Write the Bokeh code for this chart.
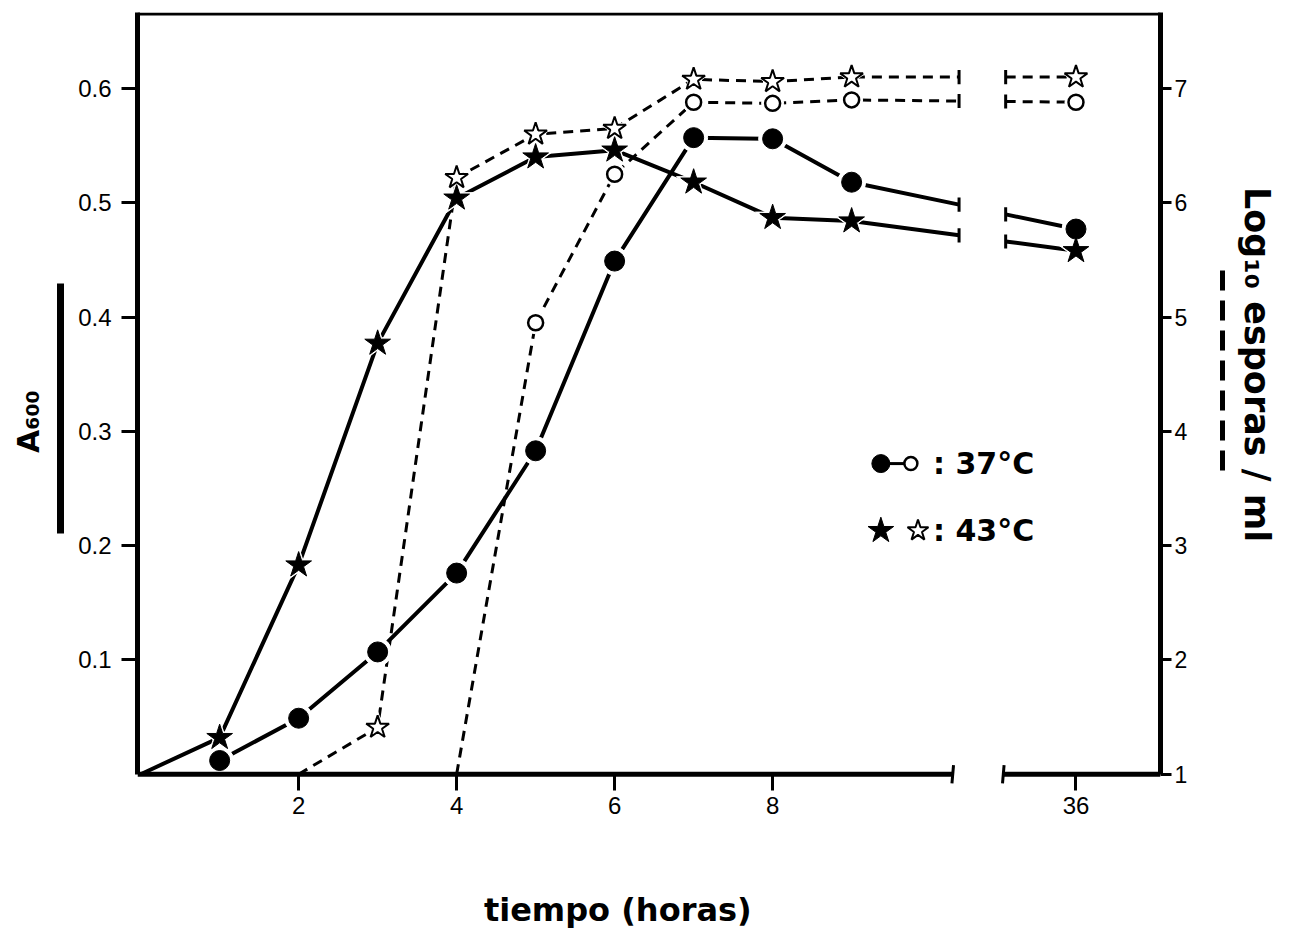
import numpy as np
from bokeh.plotting import figure
from bokeh.models import (Range1d, LinearAxis, FixedTicker, CustomJSTickFormatter,
                          Label, Arrow)
from bokeh.embed import file_html
from bokeh.resources import INLINE

# ---------------- data ----------------
hours_a600_37 = [1, 2, 3, 4, 5, 6, 7, 8, 9, 36]
a600_37 = [0.012, 0.049, 0.107, 0.176, 0.283, 0.449, 0.557, 0.556, 0.518, 0.477]

hours_a600_43 = [0, 1, 2, 3, 4, 5, 6, 7, 8, 9, 36]
a600_43 = [0.0, 0.032, 0.183, 0.377, 0.504, 0.540, 0.546, 0.518, 0.487, 0.484, 0.458]

hours_spores_37 = [4, 5, 6, 7, 8, 9, 36]
log_spores_37 = [1.0, 4.95, 6.25, 6.88, 6.87, 6.90, 6.88]

hours_spores_43 = [2, 3, 4, 5, 6, 7, 8, 9, 36]
log_spores_43 = [1.0, 1.41, 6.22, 6.60, 6.65, 7.08, 7.06, 7.10, 7.10]

x_tick_hours = [2, 4, 6, 8, 36]
a600_ticks = [0.1, 0.2, 0.3, 0.4, 0.5, 0.6]
log_ticks = [1, 2, 3, 4, 5, 6, 7]

# ---------------- broken time axis ----------------
POS_LATE = 11.84           # axis position where the 36 h point sits
AXIS_GAP = (10.28, 10.92)  # gap in the time axis
LINE_GAP = (10.36, 10.95)  # gap in the data lines


def xpos(h):
    h = np.asarray(h, dtype=float)
    return np.where(h > 10, POS_LATE, h)


def broken(hours, vals):
    x = xpos(hours)
    y = np.asarray(vals, dtype=float)
    x0, x1, y0, y1 = x[-2], x[-1], y[-2], y[-1]
    yl = y0 + (y1 - y0) * (LINE_GAP[0] - x0) / (x1 - x0)
    yr = y0 + (y1 - y0) * (LINE_GAP[1] - x0) / (x1 - x0)
    xs = np.concatenate([x[:-1], [LINE_GAP[0], np.nan, LINE_GAP[1], x1]])
    ys = np.concatenate([y[:-1], [yl, np.nan, yr, y1]])
    return xs, ys, yl, yr


X0, X1 = -0.04, 12.91
Y0, Y1 = -0.009, 0.6665            # A600 range (frame extends a little below 0)
S0, S1 = 1 + 10 * Y0, 1 + 10 * Y1  # log10 spores range, aligned with A600

p = figure(frame_width=1023, frame_height=772,
           x_range=Range1d(X0, X1), y_range=Range1d(Y0, Y1),
           output_backend="svg", toolbar_location=None,
           min_border_left=137, min_border_right=121,
           min_border_top=12, min_border_bottom=150)
p.extra_y_ranges = {"spores": Range1d(S0, S1)}
p.outline_line_color = None
p.grid.visible = False
p.background_fill_color = "white"
p.border_fill_color = "white"

TICK_FONT = "Liberation Sans"
BOLD_FONT = "DejaVu Sans"


def style_ticks(ax, size="24px"):
    ax.major_tick_line_width = 3
    ax.major_tick_line_color = "black"
    ax.minor_tick_line_color = None
    ax.major_label_text_font = TICK_FONT
    ax.major_label_text_font_size = size
    ax.major_label_text_color = "black"
    ax.axis_line_color = "black"


# left A600 axis
yax = p.yaxis[0]
yax.ticker = FixedTicker(ticks=a600_ticks)
yax.bounds = (0, Y1)
style_ticks(yax)
yax.axis_line_width = 5
yax.major_tick_out = 16
yax.major_tick_in = 0
yax.major_label_standoff = 10
yax.axis_label = " "
yax.axis_label_text_font_size = "1px"
yax.axis_label_standoff = 11

# solid bar on the left
bar_l = LinearAxis(ticker=FixedTicker(ticks=[]), bounds=(0.2105, 0.4293))
bar_l.axis_line_width = 7
bar_l.axis_line_color = "black"
bar_l.major_tick_line_color = None
bar_l.minor_tick_line_color = None
bar_l.major_label_text_font_size = "0px"
p.add_layout(bar_l, "left")

# right log10 spores axis
rax = LinearAxis(y_range_name="spores", ticker=FixedTicker(ticks=log_ticks), bounds=(1, S1))
style_ticks(rax, "23px")
rax.axis_line_width = 5
rax.major_tick_out = 11
rax.major_tick_in = 0
rax.major_label_standoff = 3
rax.axis_label = " "
rax.axis_label_text_font_size = "1px"
rax.axis_label_standoff = 28
p.add_layout(rax, "right")

# dashed bar on the right
bar_r = LinearAxis(ticker=FixedTicker(ticks=[]), bounds=(0.2656, 0.4433))
bar_r.axis_line_width = 5
bar_r.axis_line_color = "black"
bar_r.axis_line_dash = "20 10"
bar_r.major_tick_line_color = None
bar_r.minor_tick_line_color = None
bar_r.major_label_text_font_size = "0px"
p.add_layout(bar_r, "right")

# bottom time axis (line drawn separately because of the break)
xax = p.xaxis[0]
xax.ticker = FixedTicker(ticks=[float(v) for v in xpos(x_tick_hours)])
xax.formatter = CustomJSTickFormatter(code="return tick > 10 ? '36' : tick.toFixed(0);")
style_ticks(xax)
xax.axis_line_color = None
xax.major_tick_out = 6
xax.major_tick_in = 10
xax.major_label_standoff = 6

# axis titles (placed in the side panels, positioned by the data scales)
p.add_layout(Label(x=6.04, y=-0.1185, text="tiempo (horas)", text_font=BOLD_FONT,
                   text_font_style="bold", text_font_size="32px", text_color="black",
                   text_align="center", text_baseline="middle"), "below")
p.add_layout(Label(x=-1.42, y=0.3085, text="A₆₀₀", text_font=BOLD_FONT,
                   text_font_style="bold", text_font_size="30px", text_color="black",
                   angle=np.pi / 2, text_align="center", text_baseline="middle"), "left")
p.add_layout(Label(x=14.13, y=0.3584, text="Log₁₀ esporas / ml", text_font=BOLD_FONT,
                   text_font_style="bold", text_font_size="35px", text_color="black",
                   angle=-np.pi / 2, text_align="center", text_baseline="middle"), "right")

# bottom axis line with break marks, and top border
for xa, xb in [(X0, AXIS_GAP[0]), (AXIS_GAP[1], X1)]:
    p.add_layout(Arrow(end=None, x_start=xa, y_start=0, x_end=xb, y_end=0,
                       line_width=5, line_color="black"))
for xb in AXIS_GAP:
    p.add_layout(Arrow(end=None, x_start=xb - 0.01, y_start=-0.008,
                       x_end=xb + 0.01, y_end=0.008,
                       line_width=3, line_color="black"))
p.add_layout(Arrow(end=None, x_start=X0, y_start=Y1 - 0.0013, x_end=X1, y_end=Y1 - 0.0013,
                   line_width=3, line_color="black"))

# ---------------- data lines ----------------
series = [
    (hours_a600_37, a600_37, "default", 0.0062, dict(line_width=4)),
    (hours_a600_43, a600_43, "default", 0.0062, dict(line_width=4)),
    (hours_spores_37, log_spores_37, "spores", 0.062, dict(line_width=3, line_dash="10 7")),
    (hours_spores_43, log_spores_43, "spores", 0.062, dict(line_width=3, line_dash="10 7")),
]
for hrs, vals, rng, d, style in series:
    xs, ys, yl, yr = broken(hrs, vals)
    p.line(xs, ys, line_color="black", y_range_name=rng, **style)
    p.segment(x0=[LINE_GAP[0], LINE_GAP[1]], y0=[yl - d, yr - d],
              x1=[LINE_GAP[0], LINE_GAP[1]], y1=[yl + d, yr + d],
              line_color="black", line_width=3, y_range_name=rng)

# ---------------- markers (with white halos) ----------------
mk_a37_x, mk_a37_y = xpos(hours_a600_37), a600_37
mk_a43_x, mk_a43_y = xpos(hours_a600_43[1:]), a600_43[1:]
mk_s37_x, mk_s37_y = xpos(hours_spores_37[1:]), log_spores_37[1:]
mk_s43_x, mk_s43_y = xpos(hours_spores_43[1:]), log_spores_43[1:]

p.scatter(mk_a37_x, mk_a37_y, marker="circle", size=28, color="white")
p.scatter(mk_a43_x, mk_a43_y, marker="star", size=36, color="white")
p.scatter(mk_s37_x, mk_s37_y, marker="circle", size=22, color="white", y_range_name="spores")
p.scatter(mk_s43_x, mk_s43_y, marker="star", size=32, color="white", y_range_name="spores")

p.scatter(mk_a37_x, mk_a37_y, marker="circle", size=20, color="black")
p.scatter(mk_a43_x, mk_a43_y, marker="star", size=27, color="black")
p.scatter(mk_s37_x, mk_s37_y, marker="circle", size=15, fill_color="white",
          line_color="black", line_width=2.5, y_range_name="spores")
p.scatter(mk_s43_x, mk_s43_y, marker="star", size=24, fill_color="white",
          line_color="black", line_width=2, y_range_name="spores")

# ---------------- legend ----------------
LEG_Y = [0.2718, 0.2131]
p.line([9.37, 9.75], [LEG_Y[0], LEG_Y[0]], line_color="black", line_width=3)
p.scatter([9.37], [LEG_Y[0]], marker="circle", size=18, color="black")
p.scatter([9.75], [LEG_Y[0]], marker="circle", size=13, fill_color="white",
          line_color="black", line_width=2.5)
p.scatter([9.37], [LEG_Y[1]], marker="star", size=27, color="black")
p.scatter([9.84], [LEG_Y[1]], marker="star", size=22, fill_color="white",
          line_color="black", line_width=2)
for yy, txt in zip(LEG_Y, [": 37°C", ": 43°C"]):
    p.add_layout(Label(x=10.03, y=yy, text=txt, text_font=BOLD_FONT, text_font_style="bold",
                       text_font_size="30px", text_color="black",
                       text_align="left", text_baseline="middle"))

open("out.html", "w").write(file_html(p, INLINE))
